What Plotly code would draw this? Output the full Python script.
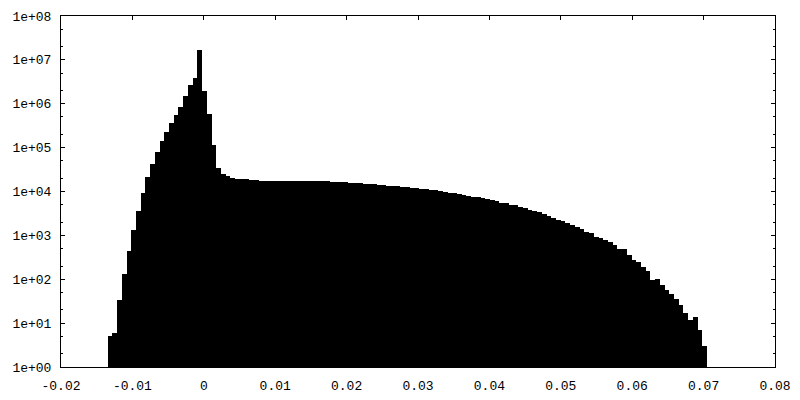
import plotly.graph_objects as go

# Histogram
bin_start = -0.01346   # left edge of first bin
bin_width = 0.000661   # width of each bin

counts = [
    5.1, 6.0, 33.6, 132, 440, 1325, 3590, 9390, 21400, 42300,
    79500, 141500, 227000, 364000, 554000, 843000, 1.50e6, 2.67e6, 3.86e6, 1.68e7,
    1.95e6, 584000, 115000, 34300, 25500, 22600, 20300, 19300, 19100, 18900,
    18400, 18200, 17700, 17650, 17600, 17550, 17500, 17450, 17400, 17350,
    17300, 17250, 17200, 17150, 17100, 17050, 17000, 16600, 16500, 16450,
    16400, 15700, 15600, 15500, 14900, 14850, 14750, 14200, 14050, 13500,
    13400, 13300, 12700, 12650, 12100, 12000, 11450, 11350, 10900, 10800,
    10270, 9740, 9300, 9200, 8770, 8320, 7890, 7520, 7460, 7110,
    6740, 6400, 6070, 5500, 5440, 4950, 4900, 4430, 4210, 3790,
    3590, 3410, 3070, 2770, 2490, 2240, 2130, 1910, 1720, 1550,
    1400, 1190, 1130, 918, 871, 785, 706, 603, 495, 485,
    357, 275, 247, 190, 154, 96, 101, 74, 57, 46,
    35, 26, 17, 11.8, 13.8, 7.0, 3.0,
]

x_ticks = [-0.02, -0.01, 0, 0.01, 0.02, 0.03, 0.04, 0.05, 0.06, 0.07, 0.08]
x_labels = ["-0.02", "-0.01", "0", "0.01", "0.02", "0.03", "0.04", "0.05", "0.06", "0.07", "0.08"]
y_ticks = [1, 10, 100, 1e3, 1e4, 1e5, 1e6, 1e7, 1e8]
y_labels = ["1e+00", "1e+01", "1e+02", "1e+03", "1e+04", "1e+05", "1e+06", "1e+07", "1e+08"]
y_minor = [m * 10 ** k for k in range(8) for m in (2, 5)]

fig = go.Figure(
    go.Bar(
        x0=bin_start + bin_width / 2,
        dx=bin_width,
        y=counts,
        width=bin_width,
        marker=dict(color="black", line=dict(width=0)),
        showlegend=False,
        hoverinfo="skip",
    )
)

font = dict(family="Liberation Mono, DejaVu Sans Mono, monospace", size=13, color="black")

fig.update_layout(
    template="none",
    width=800,
    height=400,
    autosize=False,
    margin=dict(l=61, r=25, t=16, b=33, pad=0),
    paper_bgcolor="white",
    plot_bgcolor="white",
    bargap=0,
    font=font,
    hovermode=False,
)

fig.update_xaxes(
    automargin=False,
    range=[-0.02, 0.08],
    tickmode="array",
    tickvals=x_ticks,
    ticktext=x_labels,
    ticks="inside",
    ticklen=4,
    tickwidth=1,
    tickcolor="black",
    showline=True,
    linecolor="black",
    linewidth=1,
    mirror="allticks",
    showgrid=False,
    zeroline=False,
    tickfont=font,
    ticklabelstandoff=6,
)

fig.update_yaxes(
    automargin=False,
    type="log",
    range=[0, 8],
    tickmode="array",
    tickvals=y_ticks,
    ticktext=y_labels,
    ticks="inside",
    ticklen=4,
    tickwidth=1,
    tickcolor="black",
    minor=dict(tickmode="array", tickvals=y_minor, ticks="inside", ticklen=2,
               tickcolor="black", tickwidth=1, showgrid=False),
    showline=True,
    linecolor="black",
    linewidth=1,
    mirror="allticks",
    showgrid=False,
    zeroline=False,
    tickfont=font,
    ticklabelstandoff=6,
)

fig.write_html(
    "out.html",
    config={"displayModeBar": False, "staticPlot": True},
    post_script="document.body.style.margin='0';document.body.style.padding='0';",
)
